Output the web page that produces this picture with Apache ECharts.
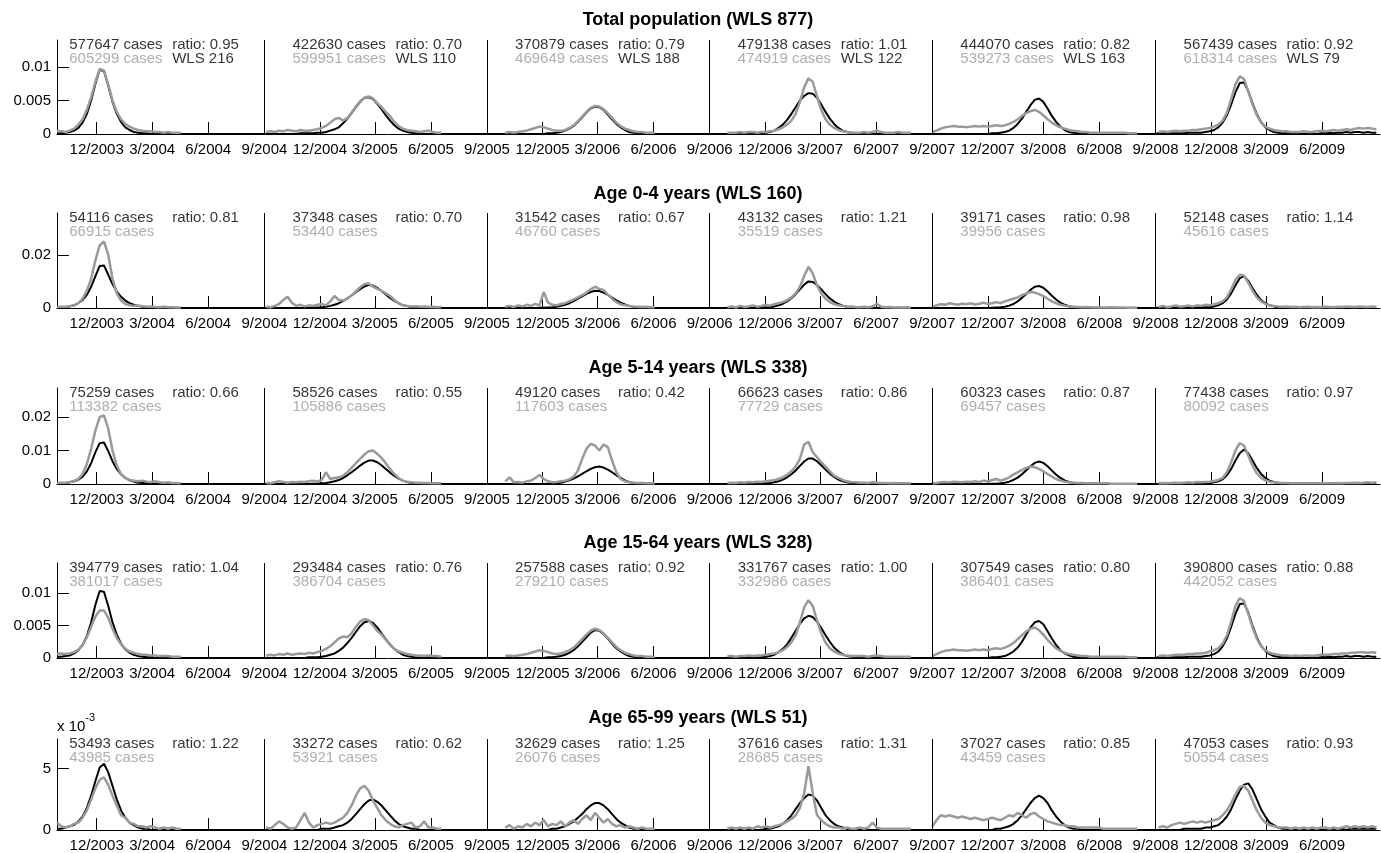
<!DOCTYPE html>
<html><head><meta charset="utf-8">
<script src="https://cdn.jsdelivr.net/npm/echarts@6/dist/echarts.min.js"></script>
<style>html,body{margin:0;padding:0;background:#fff}#c{width:1381px;height:853px}</style>
</head><body><div id="c"></div>
<script>
// ---------- data ----------
const FIRST_WEEK = [2003, 9, 27];          // first weekly value
const AXIS_MIN = '2003-09-27';
const AXIS_MAX = '2009-09-04';
const seasonStartWeek = [0, 49, 101, 153, 205, 258];
const seasonLines = ['2004-09-01', '2005-09-01', '2006-09-01', '2007-09-01', '2008-09-01'];
const xTickDates = ['2003-12-01','2004-03-01','2004-06-01','2004-09-01','2004-12-01','2005-03-01','2005-06-01','2005-09-01',
  '2005-12-01','2006-03-01','2006-06-01','2006-09-01','2006-12-01','2007-03-01','2007-06-01','2007-09-01',
  '2007-12-01','2008-03-01','2008-06-01','2008-09-01','2008-12-01','2009-03-01','2009-06-01'];
const textDates = ['2003-10-17', '2004-10-17', '2005-10-17', '2006-10-17', '2007-10-17', '2008-10-17'];
const panelTitles = ['Total population (WLS 877)', 'Age 0-4 years (WLS 160)', 'Age 5-14 years (WLS 338)', 'Age 15-64 years (WLS 328)', 'Age 65-99 years (WLS 51)'];
const yMax = [0.01403, 0.0357, 0.02866, 0.01462, 0.00742];
const yTicks = [[0, 0.005, 0.01], [0, 0.02], [0, 0.01, 0.02], [0, 0.005, 0.01], [0, 0.005]];
const UNIT = 1e-4; // values below are in units of 1e-4

const modelCases = [
  [577647, 422630, 370879, 479138, 444070, 567439],
  [54116, 37348, 31542, 43132, 39171, 52148],
  [75259, 58526, 49120, 66623, 60323, 77438],
  [394779, 293484, 257588, 331767, 307549, 390800],
  [53493, 33272, 32629, 37616, 37027, 47053]];
const observedCases = [
  [605299, 599951, 469649, 474919, 539273, 618314],
  [66915, 53440, 46760, 35519, 39956, 45616],
  [113382, 105886, 117603, 77729, 69457, 80092],
  [381017, 386704, 279210, 332986, 386401, 442052],
  [43985, 53921, 26076, 28685, 43459, 50554]];
const ratios = [
  ['0.95', '0.70', '0.79', '1.01', '0.82', '0.92'],
  ['0.81', '0.70', '0.67', '1.21', '0.98', '1.14'],
  ['0.66', '0.55', '0.42', '0.86', '0.87', '0.97'],
  ['1.04', '0.76', '0.92', '1.00', '0.80', '0.88'],
  ['1.22', '0.62', '1.25', '1.31', '0.85', '0.93']];
const seasonWLS = [216, 110, 188, 122, 163, 79];

const n = null;
// Total population
const totalModel = [
  [1,1,2,3,5,9,17,30,50,75,96,94,72,48,30,18,10,6,3,2,1,1, 0,0,0,0,0,0,0,0,0,0, 0,0,0,0,0,0,0,0,0,0, 0,0,0,0,0,0,0],
  [0,0,0,0,0,0,0,0, 1,1,1,1,2,2,3,5,7,10,16,23,31,40,48,54,55,52,45,37,28,20,13,8,5,3,2,1, 0,0,0,0,0,0,0,0,0,0, 0,0,0,0,0,0],
  [0,0,0,0,0,0,0,0,0,0, 0,0,0,0, 1,1,2,3,5,8,12,18,25,32,38,41,40,36,29,22,15,10,6,3,2,1, 0,0,0,0,0,0,0,0,0,0, 0,0,0,0,0,0],
  [0,0,0,0,0,0,0,0,0,0, 0,0, 1,2,3,5,9,14,21,30,40,50,57,61,60,54,44,33,23,15,9,5,3,2,1, 0,0,0,0,0,0,0,0,0,0, 0,0,0,0,0,0,0],
  [0,0,0,0,0,0,0,0,0,0, 0,0,0,0, 1,1,2,3,5,9,15,23,33,43,51,53,48,38,27,18,11,6,3,2,1, 0,0,0,0,0,0,0,0,0,0, 0,0,0,0,0,0,0,0],
  [1,1,1,1,1,1,1,2,2,2,2,3,4, 6,10,17,28,44,62,76,77,64,46,30,18,10,6,3,2,1,1, 0,0,0,0,0,0,0, 1,1,2,1,2,2,3,2,3,3,2,3,2,2]];
const totalObserved = [
  [4,4,3,5,8,14,22,36,55,78,97,95,74,50,33,22,15,11,8,6,5,4,4,3,3,2,3,2,2,2, n,n,n,n,n,n,n,n,n,n, n,n,n,n,n,n,n,n,n],
  [3,4,3,5,4,6,5,4,6,5, 5,6,7,9,12,17,22,24,20,24, 32,41,49,54,56,53,46,40,33,27, 18,12,8,6,5,4,3,4,5,3, 2,2, n,n,n,n,n,n,n,n,n,n],
  [n,n,n,n, 2,3,2,3,4,5,7,9,11,10, 8,6,5,5,6,9,13,19,26,33, 39,42,41,37,31,24,17,12,8,6, 4,3,3,2,2,2, n,n,n,n,n,n,n,n,n,n,n,n],
  [n,n,n,n, 2,2,2,3,2,3,3,2,3,3, 4,5,7,10,14,20,30,48,70,83, 78,56,36,22,14,9,6,4,3,2, 2,2,3,2,3,5,3,2,2,2, 3,2,2,2, n,n,n,n],
  [3,5,8,10,11,12,11,11,10,11, 12,11,12,11,12,13,12,13,15,18, 22,27,31,34,36,33,28,22,17,13, 10,8,6,5,4,3,3,2,2,2, 2,2,2,2,2,2,1,1,1, n,n,n,n],
  [3,4,3,4,5,4,5,5,6,6, 7,8,9,11,14,20,32,52,74,86, 82,64,44,28,17,11,8,6,5,4, 4,3,3,3,4,3,3,4,5,4, 5,6,5,6,7,6,8,9,8,9, 8,7]];
// Age 0-4
const age0to4Model = [
  [2,3,4,6,10,18,30,50,80,120,158,160,125,90,62,42,28,18,12,8,5,3,2,1,1, 0,0,0,0,0,0,0,0,0,0, 0,0,0,0,0,0,0,0,0,0, 0,0,0,0],
  [0,0,0,0,0,0,0,0,0,0, 1,1,2,3,5,8,12,18,26,36, 47,59,71,81,87,84,76,64,51,38, 27,18,11,7,4,2,1, 0,0,0,0,0,0,0,0,0,0, 0,0,0,0,0],
  [0,0,0,0,0,0,0,0,0,0, 0,0, 1,1,2,3,5,8,12,18,26,35, 44,53,60,65,64,58,49,39,29,20, 13,8,5,3,2,1, 0,0,0,0,0,0,0,0,0,0, 0,0,0,0],
  [0,0,0,0,0,0,0,0,0,0, 0,0, 1,2,3,6,10,16,25,37,52,70, 88,100,98,87,70,52,36,24,15,9, 5,3,2,1, 0,0,0,0,0,0,0,0,0,0, 0,0,0,0,0,0],
  [0,0,0,0,0,0,0,0,0,0, 0,0,0,0, 1,2,3,5,9,15,25,38,53,68, 80,83,76,62,46,32,20,12,7,4, 2,1, 0,0,0,0,0,0,0,0,0,0, 0,0,0,0,0,0,0],
  [1,1,1,1,1,1,1,2,2,2,3,3,4, 6,10,18,32,55,85,112,120,102,75,50,30,18,10,6,3,2,1, 0,0,0,0,0,0,0, 1,1,1,1,2,1,2,2,2,1,2,2,1,1]];
const age0to4Observed = [
  [4,5,5,7,10,18,35,65,110,180,235,250,200,110,55,28,15,10,8,9,7,5,6,4,3,5,3,3,2,2, n,n,n,n,n,n,n,n,n,n, n,n,n,n,n,n,n,n,n],
  [5,3,8,15,30,42,20,8,12,6, 10,8,12,15,10,25,45,30,28,35, 48,62,78,90,92,80,72,65,55,45, 30,18,10,8,6,7,5,6,4,5, 3,4, n,n,n,n,n,n,n,n,n,n],
  [n,n,n,n, 5,8,4,10,6,12,8,15,10,60, 20,12,10,15,18,25,32,40,48,58, 70,80,72,68,50,35,22,14,10,8, 6,5,4,5,3,3, n,n,n,n,n,n,n,n,n,n,n,n],
  [n,n,n,n, 3,6,2,8,4,6,10,5,8,12, 9,14,18,22,30,40,55,80,120,155, 130,85,55,35,22,15,10,8,5,6, 4,3,5,3,6,15,5,3,4,2, 3,2,3,2, n,n,n,n],
  [5,10,14,12,18,15,12,16,14,18, 13,16,20,15,18,22,18,25,30,35, 40,48,55,60,58,52,45,35,25,18, 12,9,6,5,4,3,4,3,2,3, 2,2,3,2,2,2,1,2,1, n,n,n,n],
  [4,8,3,6,10,5,7,9,6,10, 8,12,10,14,18,25,40,70,105,125, 122,95,65,40,25,15,10,8,6,5, 6,4,5,3,4,5,3,4,3,5, 4,3,5,4,6,5,4,6,5,4, 6,5]];
// Age 5-14
const age5to14Model = [
  [2,2,3,5,8,13,22,38,62,95,122,124,98,68,45,29,18,11,7,4,3,2,1,1, 0,0,0,0,0,0,0,0,0,0, 0,0,0,0,0,0,0,0,0,0, 0,0,0,0,0],
  [0,0,0,0,0,0,0,0,0,0, 0, 1,1,2,3,5,8,12,18,26,35, 45,55,64,70,70,65,56,45,34,24, 16,10,6,3,2,1, 0,0,0,0,0,0,0,0,0,0, 0,0,0,0,0],
  [0,0,0,0,0,0,0,0,0,0, 0,0,0,0, 1,1,2,4,7,11,16,23,30,38,45,50,52,49,43,35,26,18,11,6,3,2,1, 0,0,0,0,0,0,0,0,0,0, 0,0,0,0,0],
  [0,0,0,0,0,0,0,0,0,0, 0,0, 1,2,3,5,8,13,20,29,40,54, 67,76,76,68,56,43,31,21,13,8, 5,3,2,1, 0,0,0,0,0,0,0,0,0,0, 0,0,0,0,0,0],
  [0,0,0,0,0,0,0,0,0,0, 0,0,0,0, 1,1,2,4,7,12,19,29,41,53, 63,67,63,53,40,28,18,11,6,3, 2,1, 0,0,0,0,0,0,0,0,0,0, 0,0,0,0,0,0,0],
  [0,0,0,0,1,1,1,1,1,1,2,2,3, 5,8,14,26,45,70,92,103,92,70,48,30,18,10,6,3,2,1, 0,0,0,0,0,0,0, 0,0,1,0,1,1,1,1,1,1,1,1,1,1]];
const age5to14Observed = [
  [3,4,4,6,9,15,30,60,105,160,200,205,165,100,55,30,18,12,10,8,10,7,6,8,5,4,5,3,3,2, n,n,n,n,n,n,n,n,n,n, n,n,n,n,n,n,n,n,n],
  [3,2,5,8,6,4,6,5,7,6, 8,10,8,12,35,15,18,20,25,35, 48,62,75,88,98,100,90,78,62,45, 30,18,10,7,5,4,4,3,3,2, 2,2, n,n,n,n,n,n,n,n,n,n],
  [n,n,n,n, 8,20,5,6,4,8,10,18,27,15, 8,5,6,8,10,14,22,40,75,105, 120,115,100,118,110,70,35,15,8,5, 4,3,3,2,2,2, n,n,n,n,n,n,n,n,n,n,n,n],
  [n,n,n,n, 3,4,3,5,4,6,5,7,6,8, 10,12,15,20,28,38,52,75,118,126, 95,80,65,52,38,25,18,12,8,6, 5,4,4,3,5,4,3,3,2,3, 2,2,2,2, n,n,n,n],
  [2,3,5,6,5,7,6,5,7,6, 8,6,10,8,12,15,10,14,20,28, 35,42,48,52,50,45,38,30,22,15, 10,7,5,4,3,3,2,2,2,2, 2,2,1,1,1,1,1,1,1, n,n,n,n],
  [2,3,2,3,4,3,4,5,4,6, 5,6,7,9,12,18,35,65,100,122, 115,85,55,32,18,11,7,5,4,3, 3,2,2,2,2,2,2,2,2,2, 2,2,3,2,3,3,4,3,4,5, 4,5]];
// Age 15-64
const age15to64Model = [
  [2,2,3,4,7,12,20,34,55,82,103,102,80,55,36,22,13,8,5,3,2,1,1, 0,0,0,0,0,0,0,0,0,0, 0,0,0,0,0,0,0,0,0,0, 0,0,0,0,0,0],
  [0,0,0,0,0,0,0,0,0,0, 1,1,1,2,3,5,7,11,16,23, 31,40,49,55,57,54,47,38,29,21, 14,9,5,3,2,1, 0,0,0,0,0,0,0,0,0,0, 0,0,0,0,0,0],
  [0,0,0,0,0,0,0,0,0,0, 0,0,0,0, 1,1,2,3,5,8,12,18,25,32,39,43,42,37,30,22,15,10,6,3,2,1, 0,0,0,0,0,0,0,0,0,0, 0,0,0,0,0,0],
  [0,0,0,0,0,0,0,0,0,0, 0,0, 1,2,3,5,9,14,21,31,42,53,61,65,63,56,46,35,25,16,10,6,3,2,1, 0,0,0,0,0,0,0,0,0,0, 0,0,0,0,0,0,0],
  [0,0,0,0,0,0,0,0,0,0, 0,0,0,0, 1,1,2,3,6,10,16,25,36,47,55,57,52,41,30,20,12,7,4,2,1, 0,0,0,0,0,0,0,0,0,0, 0,0,0,0,0,0,0,0],
  [1,1,1,1,1,1,1,2,2,2,2,3,4, 6,10,18,30,48,68,83,84,70,50,32,19,11,6,3,2,1,1, 0,0,0,0,0,0,0, 1,1,2,1,2,2,3,2,3,3,2,3,2,2]];
const age15to64Observed = [
  [6,7,6,7,9,13,20,32,48,64,73,73,62,45,31,21,14,10,8,6,5,5,4,4,3,3,3,2,2,2, n,n,n,n,n,n,n,n,n,n, n,n,n,n,n,n,n,n,n],
  [4,5,4,6,5,7,5,6,7,6, 8,7,9,11,14,18,24,30,33,32, 38,48,56,60,58,50,42,36,28,20, 14,10,8,6,5,4,4,3,4,3, 3,2, n,n,n,n,n,n,n,n,n,n],
  [n,n,n,n, 3,4,3,4,5,6,8,10,12,11, 9,7,6,7,9,12,16,22,29,36, 42,45,43,38,31,24,17,12,8,6, 4,3,3,2,2,2, n,n,n,n,n,n,n,n,n,n,n,n],
  [n,n,n,n, 3,3,2,3,3,4,3,4,4,5, 6,7,9,12,17,24,35,55,78,89, 80,58,38,24,15,10,7,5,4,3, 3,3,3,2,3,4,3,2,2,2, 2,2,2,2, n,n,n,n],
  [3,6,9,11,12,13,12,12,11,12, 13,12,13,12,14,15,14,16,19,23, 29,35,41,45,47,43,36,28,21,15, 11,8,6,5,4,3,3,2,2,2, 2,2,2,2,2,2,1,1,1, n,n,n,n],
  [3,4,3,4,5,5,5,6,6,7, 7,8,10,12,15,22,35,56,80,92, 88,68,47,30,18,12,8,6,5,4, 4,3,4,3,4,4,3,4,5,5, 5,6,6,7,7,8,8,9,9,8, 9,8]];
// Age 65-99
const age65to99Model = [
  [1,1,2,3,4,7,11,18,28,40,51,54,47,36,25,16,10,6,4,2,1,1, 0,0,0,0,0,0,0,0,0,0, 0,0,0,0,0,0,0,0,0,0, 0,0,0,0,0,0,0],
  [0,0,0,0,0,0,0,0,0,0, 0,0,0, 1,1,1,2,3,4,6,9,13,17, 21,24,25,23,20,16,12,8,5,3, 2,1,1, 0,0,0,0,0,0,0,0,0,0, 0,0,0,0,0,0],
  [0,0,0,0,0,0,0,0,0,0, 0,0,0,0,0, 1,1,2,3,5,7,10,13,17,20,22,22,20,17,13,9,6,4,2,1,1, 0,0,0,0,0,0,0,0,0,0, 0,0,0,0,0,0],
  [0,0,0,0,0,0,0,0,0,0, 0,0,0, 1,1,2,3,5,8,12,17,22,26,29,28,24,18,12,8,5,3,2,1, 0,0,0,0,0,0,0,0,0,0, 0,0,0,0,0,0,0,0,0],
  [0,0,0,0,0,0,0,0,0,0, 0,0,0,0,0, 1,1,2,3,5,8,12,17,22,26,28,26,22,16,11,7,4,2,1,1, 0,0,0,0,0,0,0,0,0,0, 0,0,0,0,0,0,0,0],
  [0,0,0,0,0,0,1,1,1,1,1,2,2,3, 4,7,11,17,25,32,37,38,33,25,17,11,6,4,2,1,1, 0,0,0,0,0,0,0, 0,0,0,0,0,1,0,1,1,1,1,1,1,1]];
const age65to99Observed = [
  [6,3,2,3,5,6,10,16,25,34,41,43,37,28,20,12,10,6,5,3,3,2,3,2,1,2,1,2,1,1, n,n,n,n,n,n,n,n,n,n, n,n,n,n,n,n,n,n,n],
  [2,1,4,7,5,2,1,2,8,14, 6,2,4,5,6,5,6,8,10,14, 20,28,34,36,32,24,18,12,8,5, 3,2,4,5,6,2,3,7,2,2, 1,1, n,n,n,n,n,n,n,n,n,n],
  [n,n,n,n, 2,4,1,3,2,5,3,6,4,8, 3,5,4,7,3,6,8,5,9,12, 8,14,10,6,9,5,3,4,2,3, 2,1,2,1,1,1, n,n,n,n,n,n,n,n,n,n,n,n],
  [n,n,n,n, 1,2,1,2,1,2,1,3,2,3, 2,3,4,5,7,9,12,18,30,52, 30,12,8,5,3,2,2,1,2,1, 1,2,1,2,6,2,1,1,1,1, 1,1,1,1, n,n,n,n],
  [3,8,12,11,12,11,10,11,10,9, 10,9,8,9,10,9,8,10,12,11, 14,12,10,13,14,11,9,7,6,5, 4,4,3,3,2,2,2,2,2,2, 1,1,1,1,1,1,1,1,1, n,n,n,n],
  [2,3,2,4,5,6,5,6,7,6, 7,6,7,8,9,12,16,22,29,35, 36,32,24,16,10,6,4,3,2,2, 2,1,2,1,2,1,2,1,2,2, 1,2,1,2,3,2,3,2,3,2, 3,2]];

const panelModel = [totalModel, age0to4Model, age5to14Model, age15to64Model, age65to99Model];
const panelObserved = [totalObserved, age0to4Observed, age5to14Observed, age15to64Observed, age65to99Observed];

// ---------- layout / style ----------
const FONT = "'Liberation Sans', Arial, Helvetica, sans-serif";
const GRAY = '#9a9a9a';
const gridTop = [40, 213, 388, 563, 739];
const gridHeight = [94, 95, 96, 95, 95];
const titleCenter = [20.5, 194, 368.5, 543, 718];

function toTime(s) { const p = s.split('-').map(Number); return new Date(p[0], p[1] - 1, p[2]).getTime(); }
function weekTime(k) { return new Date(FIRST_WEEK[0], FIRST_WEEK[1] - 1, FIRST_WEEK[2] + 7 * k).getTime(); }
function buildSeries(seasons) {
  const out = [];
  seasons.forEach((arr, s) => arr.forEach((v, j) => {
    out.push([weekTime(seasonStartWeek[s] + j), v === null ? '-' : v * UNIT]);
  }));
  return out;
}
const xTickTimes = xTickDates.map(toTime);

const option = {
  animation: false,
  backgroundColor: '#fff',
  title: [], grid: [], xAxis: [], yAxis: [], series: []
};

for (let i = 0; i < 5; i++) {
  option.title.push({
    text: panelTitles[i], left: 698, top: titleCenter[i] - 9, textAlign: 'center', padding: 0,
    textStyle: { fontFamily: FONT, fontSize: 18, fontWeight: 'bold', color: '#000', lineHeight: 18 }
  });
  option.grid.push({ left: 57, right: 1, top: gridTop[i], height: gridHeight[i], containLabel: false });
  option.xAxis.push({
    type: 'value', gridIndex: i, min: toTime(AXIS_MIN), max: toTime(AXIS_MAX), scale: true,
    axisLine: { show: true, onZero: false, lineStyle: { color: '#000', width: 1 } },
    axisTick: { show: true, inside: true, length: 12, customValues: xTickTimes, lineStyle: { color: '#000', width: 1 } },
    axisLabel: {
      customValues: xTickTimes, color: '#000', fontFamily: FONT, fontSize: 15, margin: 8, hideOverlap: false,
      showMinLabel: true, showMaxLabel: true,
      formatter: function (v) { const d = new Date(v); return (d.getMonth() + 1) + '/' + d.getFullYear(); }
    },
    splitLine: { show: false }, minorTick: { show: false }
  });
  const yAx = {
    type: 'value', gridIndex: i, min: 0, max: yMax[i],
    axisLine: { show: true, lineStyle: { color: '#000', width: 1 } },
    axisTick: { show: true, inside: true, length: 12, customValues: yTicks[i], lineStyle: { color: '#000', width: 1 } },
    axisLabel: { customValues: yTicks[i], color: '#000', fontFamily: FONT, fontSize: 15, margin: 6,
      formatter: i === 4 ? function (v) { return String(Math.round(v * 1000)); } : function (v) { return String(+(+v).toPrecision(6)); } },
    splitLine: { show: false }
  };
  if (i === 4) {
    yAx.name = '{a|x 10}{b|-3}';
    yAx.nameLocation = 'end';
    yAx.nameGap = 5;
    yAx.nameTextStyle = { align: 'left', verticalAlign: 'bottom',
      rich: { a: { fontFamily: FONT, fontSize: 15, color: '#000', lineHeight: 22, verticalAlign: 'bottom' },
              b: { fontFamily: FONT, fontSize: 11, color: '#000', lineHeight: 22, verticalAlign: 'top' } } };
  }
  option.yAxis.push(yAx);

  option.series.push({
    type: 'line', xAxisIndex: i, yAxisIndex: i, data: buildSeries(panelModel[i]),
    showSymbol: false, symbol: 'none', clip: false, z: 2, silent: true,
    lineStyle: { color: '#000', width: 2 },
    markLine: { silent: true, symbol: ['none', 'none'], label: { show: false }, animation: false,
      lineStyle: { color: '#000', width: 1, type: 'solid' },
      data: seasonLines.map(d => ({ xAxis: toTime(d) })) }
  });
  option.series.push({
    type: 'line', xAxisIndex: i, yAxisIndex: i, data: buildSeries(panelObserved[i]),
    showSymbol: false, symbol: 'none', clip: false, z: 3, silent: true, connectNulls: false,
    lineStyle: { color: GRAY, width: 2.5 }
  });
  option.series.push({
    type: 'scatter', xAxisIndex: i, yAxisIndex: i, symbolSize: 0, clip: false, z: 5, silent: true,
    data: textDates.map((d, s) => ({
      value: [toTime(d), yMax[i]],
      label: {
        show: true, position: 'right', distance: 0, offset: [0, 12],
        formatter: '{c|' + modelCases[i][s] + ' cases}{r|ratio: ' + ratios[i][s] + '}\n{g|' + observedCases[i][s] + ' cases}' +
          (i === 0 ? '{r|WLS ' + seasonWLS[s] + '}' : ''),
        rich: {
          c: { width: 103, color: '#000', fontFamily: FONT, fontSize: 15, lineHeight: 14 },
          r: { color: '#000', fontFamily: FONT, fontSize: 15, lineHeight: 14 },
          g: { width: 103, color: GRAY, fontFamily: FONT, fontSize: 15, lineHeight: 14 }
        }
      }
    }))
  });
}

const chart = echarts.init(document.getElementById('c'), null, { renderer: 'canvas' });
chart.setOption(option);
</script></body></html>
